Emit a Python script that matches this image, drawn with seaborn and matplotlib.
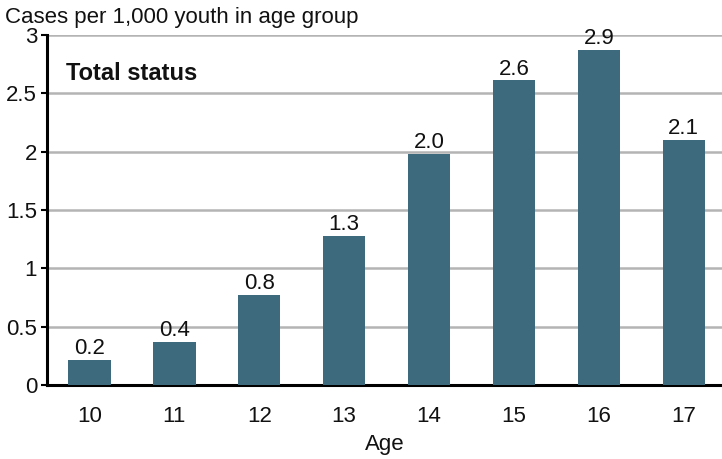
import matplotlib
matplotlib.use("Agg")
import matplotlib.pyplot as plt
import pandas as pd
import seaborn as sns

# ── Data ──────────────────────────────────────────────────────────────────────
ages = ["10", "11", "12", "13", "14", "15", "16", "17"]
cases = [0.215, 0.37, 0.774, 1.28, 1.98, 2.61, 2.87, 2.10]
yticks = [0, 0.5, 1, 1.5, 2, 2.5, 3]
ytick_labels = ["0", "0.5", "1", "1.5", "2", "2.5", "3"]

df = pd.DataFrame({"age": ages, "cases": cases})

# ── Plot ──────────────────────────────────────────────────────────────────────
sns.set_style("white")
plt.rcParams["font.family"] = ["Liberation Sans", "DejaVu Sans"]
plt.rcParams["text.color"] = "#111111"
plt.rcParams["xtick.color"] = "black"
plt.rcParams["ytick.color"] = "black"
plt.rcParams["xtick.labelcolor"] = "#111111"
plt.rcParams["ytick.labelcolor"] = "#111111"
plt.rcParams["axes.labelcolor"] = "#111111"

fig = plt.figure(figsize=(7.22, 4.59), dpi=100)
ax = fig.add_axes([0.065, 0.161, 0.935, 0.763])

sns.barplot(data=df, x="age", y="cases", color="#3d6b7d", saturation=1,
            width=0.5, linewidth=0, ax=ax, zorder=3)

for i, v in enumerate(cases):
    ax.text(i, v + 0.005, f"{v:.1f}", ha="center", va="bottom",
            fontsize=16, zorder=4)

ax.set_ylim(0, 3)
ax.set_xlim(-0.5, 7.45)
ax.set_yticks(yticks)
ax.set_yticklabels(ytick_labels)
for y in yticks[1:]:
    ax.axhline(y, color="#b4b4b4", lw=1.8, zorder=1)

ax.spines[["top", "right"]].set_visible(False)
ax.spines["left"].set_linewidth(2.2)
ax.spines["bottom"].set_linewidth(2.2)
ax.spines["left"].set_color("black")
ax.spines["bottom"].set_color("black")
ax.tick_params(axis="y", length=4, width=1.5, left=True, labelsize=16, pad=3)
ax.tick_params(axis="x", length=0, labelsize=16, pad=15)

ax.set_xlabel("Age", fontsize=16, labelpad=5)
ax.set_ylabel("")
ax.text(0.028, 0.89, "Total status", transform=ax.transAxes,
        fontsize=17, fontweight="bold", va="center", ha="left")
fig.text(0.007, 0.961, "Cases per 1,000 youth in age group",
         fontsize=16, va="center", ha="left")

fig.savefig("out.png", dpi=100)
